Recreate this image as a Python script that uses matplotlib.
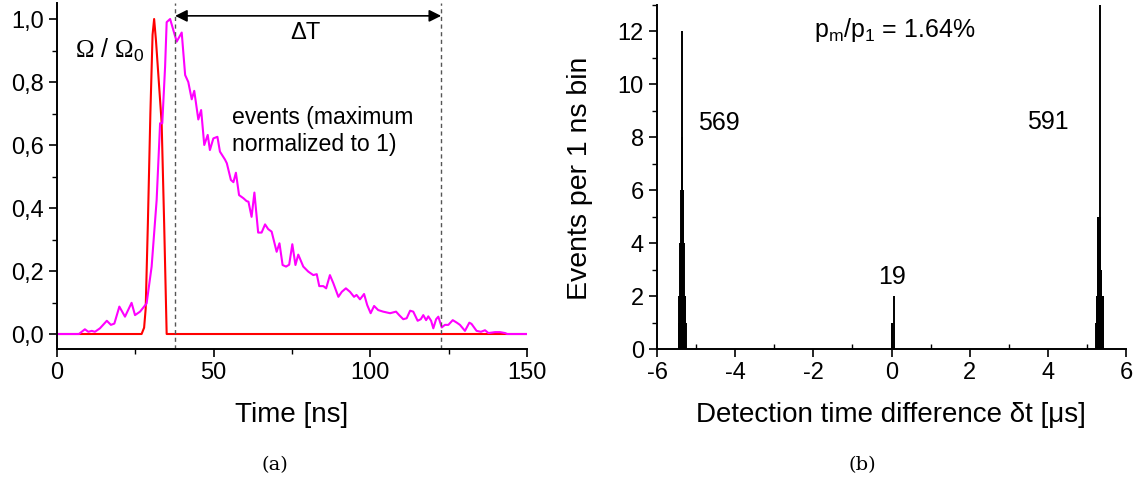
import numpy as np
import matplotlib
matplotlib.use("Agg")
from matplotlib import pyplot as plt
from matplotlib.ticker import MultipleLocator, FuncFormatter

plt.rcParams['font.family'] = ['Liberation Sans', 'DejaVu Sans']
plt.rcParams['axes.unicode_minus'] = False
plt.rcParams['mathtext.fontset'] = 'custom'
plt.rcParams['mathtext.rm'] = 'Liberation Serif'
plt.rcParams['mathtext.it'] = 'Liberation Sans:italic'
plt.rcParams['mathtext.sf'] = 'Liberation Sans'

# panel (a): control pulse and detection events (normalized)
t_pulse = [0, 27.0, 27.8, 28.3, 29.0, 29.8, 30.5, 31.0, 31.6, 32.5, 33.4, 34.2, 35.0, 150]
omega = [0, 0, 0.02, 0.08, 0.35, 0.7, 0.95, 1.0, 0.93, 0.8, 0.67, 0.35, 0.0, 0]

t_events = [0, 7, 8.9, 10, 11.1, 12.1, 13.7, 15.9, 17.2, 18.3, 19.9, 21.7, 23.8, 24.9,
            26.5, 28.6, 30.2, 31.8, 32.9, 33.6, 34.5, 35.0, 36.1, 38.2, 39.8, 40.9, 41.9,
            43.0, 43.8, 45.1, 46.0, 47.0, 48.1, 48.8, 49.9, 51.2, 52.0, 53.6, 54.2, 55.5,
            56.3, 57.1, 58.1, 59.5, 60.5, 61.1, 62.1, 63.0, 64.2, 65.3, 66.4, 67.4, 68.5,
            70.1, 71.0, 72.0, 73.1, 74.1, 75.1, 76.1, 77.0, 78.6, 80.2, 81.8, 82.9, 83.7,
            85.0, 85.9, 87.1, 88.2, 89.8, 90.9, 92.2, 93.5, 94.8, 95.6, 96.7, 98.0, 99.0,
            100.1, 101.2, 102.5, 104.1, 106.3, 108.2, 109.2, 110.5, 111.6, 112.7, 113.7,
            115.1, 116.1, 116.9, 117.8, 118.5, 119.4, 120.1, 121.0, 121.7, 122.8, 123.8,
            124.9, 126.3, 127.6, 128.6, 130.2, 131.6, 132.3, 133.9, 135.3, 136.6, 137.7,
            139.8, 141.4, 143.0, 143.7, 150]
events = [0, 0, 0.015, 0.007, 0.01, 0.007, 0.018, 0.042, 0.029, 0.033, 0.087, 0.055, 0.099, 0.06,
          0.071, 0.097, 0.214, 0.425, 0.669, 0.669, 0.849, 0.99, 1.0, 0.928, 0.957, 0.822, 0.80,
          0.745, 0.772, 0.681, 0.711, 0.60, 0.632, 0.584, 0.621, 0.626, 0.579, 0.554, 0.542, 0.489,
          0.482, 0.512, 0.441, 0.431, 0.422, 0.42, 0.372, 0.449, 0.322, 0.322, 0.348, 0.333, 0.325,
          0.261, 0.288, 0.219, 0.214, 0.22, 0.285, 0.219, 0.252, 0.214, 0.198, 0.187, 0.19, 0.152,
          0.152, 0.145, 0.187, 0.161, 0.118, 0.134, 0.145, 0.134, 0.118, 0.124, 0.11, 0.127, 0.092,
          0.066, 0.089, 0.076, 0.071, 0.066, 0.071, 0.06, 0.047, 0.05, 0.074, 0.071,
          0.042, 0.047, 0.06, 0.044, 0.056, 0.042, 0.018, 0.047, 0.055, 0.021, 0.029,
          0.029, 0.044, 0.036, 0.029, 0.01, 0.036, 0.032, 0.01, 0.007, 0.012, 0.003,
          0.006, 0.006, 0.003, 0, 0]
window = [37.7, 122.6]

# panel (b): coincidence histogram (1 ns bins), dt in microseconds
dt_left = [-5.44, -5.43, -5.42, -5.41, -5.40, -5.39, -5.38, -5.37, -5.36, -5.355, -5.35,
           -5.345, -5.34, -5.33, -5.32, -5.31, -5.30, -5.29, -5.28, -5.27]
n_left = [1, 2, 2, 2, 4, 4, 6, 6, 6, 8, 12, 6, 6, 4, 4, 2, 2, 2, 2, 1]
dt_mid = [0.0, 0.005, 0.065]
n_mid = [1, 1, 2]
dt_right = [5.24, 5.25, 5.26, 5.27, 5.28, 5.29, 5.30, 5.31, 5.32, 5.33, 5.34, 5.35, 5.36,
            5.37, 5.38, 5.39, 5.40, 5.41, 5.42]
n_right = [1, 2, 2, 2, 5, 5, 5, 5, 5, 14, 5, 3, 3, 3, 2, 2, 2, 2, 1]
totals = {'569': (-4.42, 8.55), '19': (0.0, 2.72), '591': (4.0, 8.58)}

W, H = 1134, 479
fig = plt.figure(figsize=(W / 100, H / 100), dpi=100)

ax1 = fig.add_axes([57 / W, 130 / H, 470 / W, 346 / H])
ax2 = fig.add_axes([657 / W, 130 / H, 469 / W, 344 / H])

for ax in (ax1, ax2):
    for s in ('top', 'right'):
        ax.spines[s].set_visible(False)
    for s in ('left', 'bottom'):
        ax.spines[s].set_linewidth(1.4)
    ax.tick_params(which='major', length=6, width=1.2, labelsize=17, direction='out')
    ax.tick_params(which='minor', length=3.5, width=1.0, direction='out')

# --- (a)
ax1.plot(t_pulse, omega, color='#ff0000', lw=1.5)
ax1.plot(t_events, events, color='#ff00ff', lw=1.5)
for x in window:
    ax1.axvline(x, color='#555555', ls=(0, (3, 2.5)), lw=1.0)
ax1.annotate('', xy=(window[0], 1.01), xytext=(window[1], 1.01),
             arrowprops=dict(arrowstyle='<|-|>', color='black', lw=1.2,
                             mutation_scale=18, shrinkA=0, shrinkB=0))
ax1.text(79.2, 0.955, '\u0394T', ha='center', va='center', fontsize=17)
ax1.text(5.7, 0.90, r'$\Omega\ \mathsf{/}\ \Omega_{\mathsf{0}}$', ha='left', va='center',
         fontsize=18)
ax1.text(55.9, 0.645, 'events (maximum\nnormalized to 1)', ha='left', va='center',
         fontsize=16.6, linespacing=1.2)

ax1.set_xlim(0, 150)
ax1.set_ylim(-0.0476, 1.0508)
ax1.xaxis.set_major_locator(MultipleLocator(50))
ax1.xaxis.set_minor_locator(MultipleLocator(25))
ax1.yaxis.set_major_locator(MultipleLocator(0.2))
ax1.yaxis.set_minor_locator(MultipleLocator(0.1))
ax1.yaxis.set_major_formatter(FuncFormatter(lambda v, p: ('%.1f' % v).replace('.', ',')))

# --- (b)
for dt, n in ((dt_left, n_left), (dt_mid, n_mid), (dt_right, n_right)):
    ax2.vlines(dt, 0, n, color='black', lw=1.4)
ax2.text(0.08, 12.05, r'p$_{\mathsf{m}}$/p$_{\mathsf{1}}$ = 1.64%', ha='center', va='center',
         fontsize=18)
for label, (x, y) in totals.items():
    ax2.text(x, y, label, ha='center', va='center', fontsize=18)

ax2.set_xlim(-6, 6)
ax2.set_ylim(0, 13)
ax2.xaxis.set_major_locator(MultipleLocator(2))
ax2.xaxis.set_minor_locator(MultipleLocator(1))
ax2.yaxis.set_major_locator(MultipleLocator(2))
ax2.yaxis.set_minor_locator(MultipleLocator(1))
ax2.tick_params(axis='x', which='minor', direction='in')

# axis labels and panel captions
fig.text(292 / W, 1 - 415 / H, 'Time [ns]', ha='center', va='center', fontsize=20)
fig.text(891 / W, 1 - 415 / H, 'Detection time difference \u03b4t [\u03bcs]', ha='center',
         va='center', fontsize=20)
fig.text(580 / W, 1 - 178 / H, 'Events per 1 ns bin', ha='center', va='center',
         rotation=90, fontsize=20.5)
fig.text(275 / W, 1 - 465 / H, '(a)', ha='center', va='center', fontsize=14,
         family='DejaVu Serif')
fig.text(862 / W, 1 - 465 / H, '(b)', ha='center', va='center', fontsize=14,
         family='DejaVu Serif')

fig.savefig('out.png', dpi=100)
